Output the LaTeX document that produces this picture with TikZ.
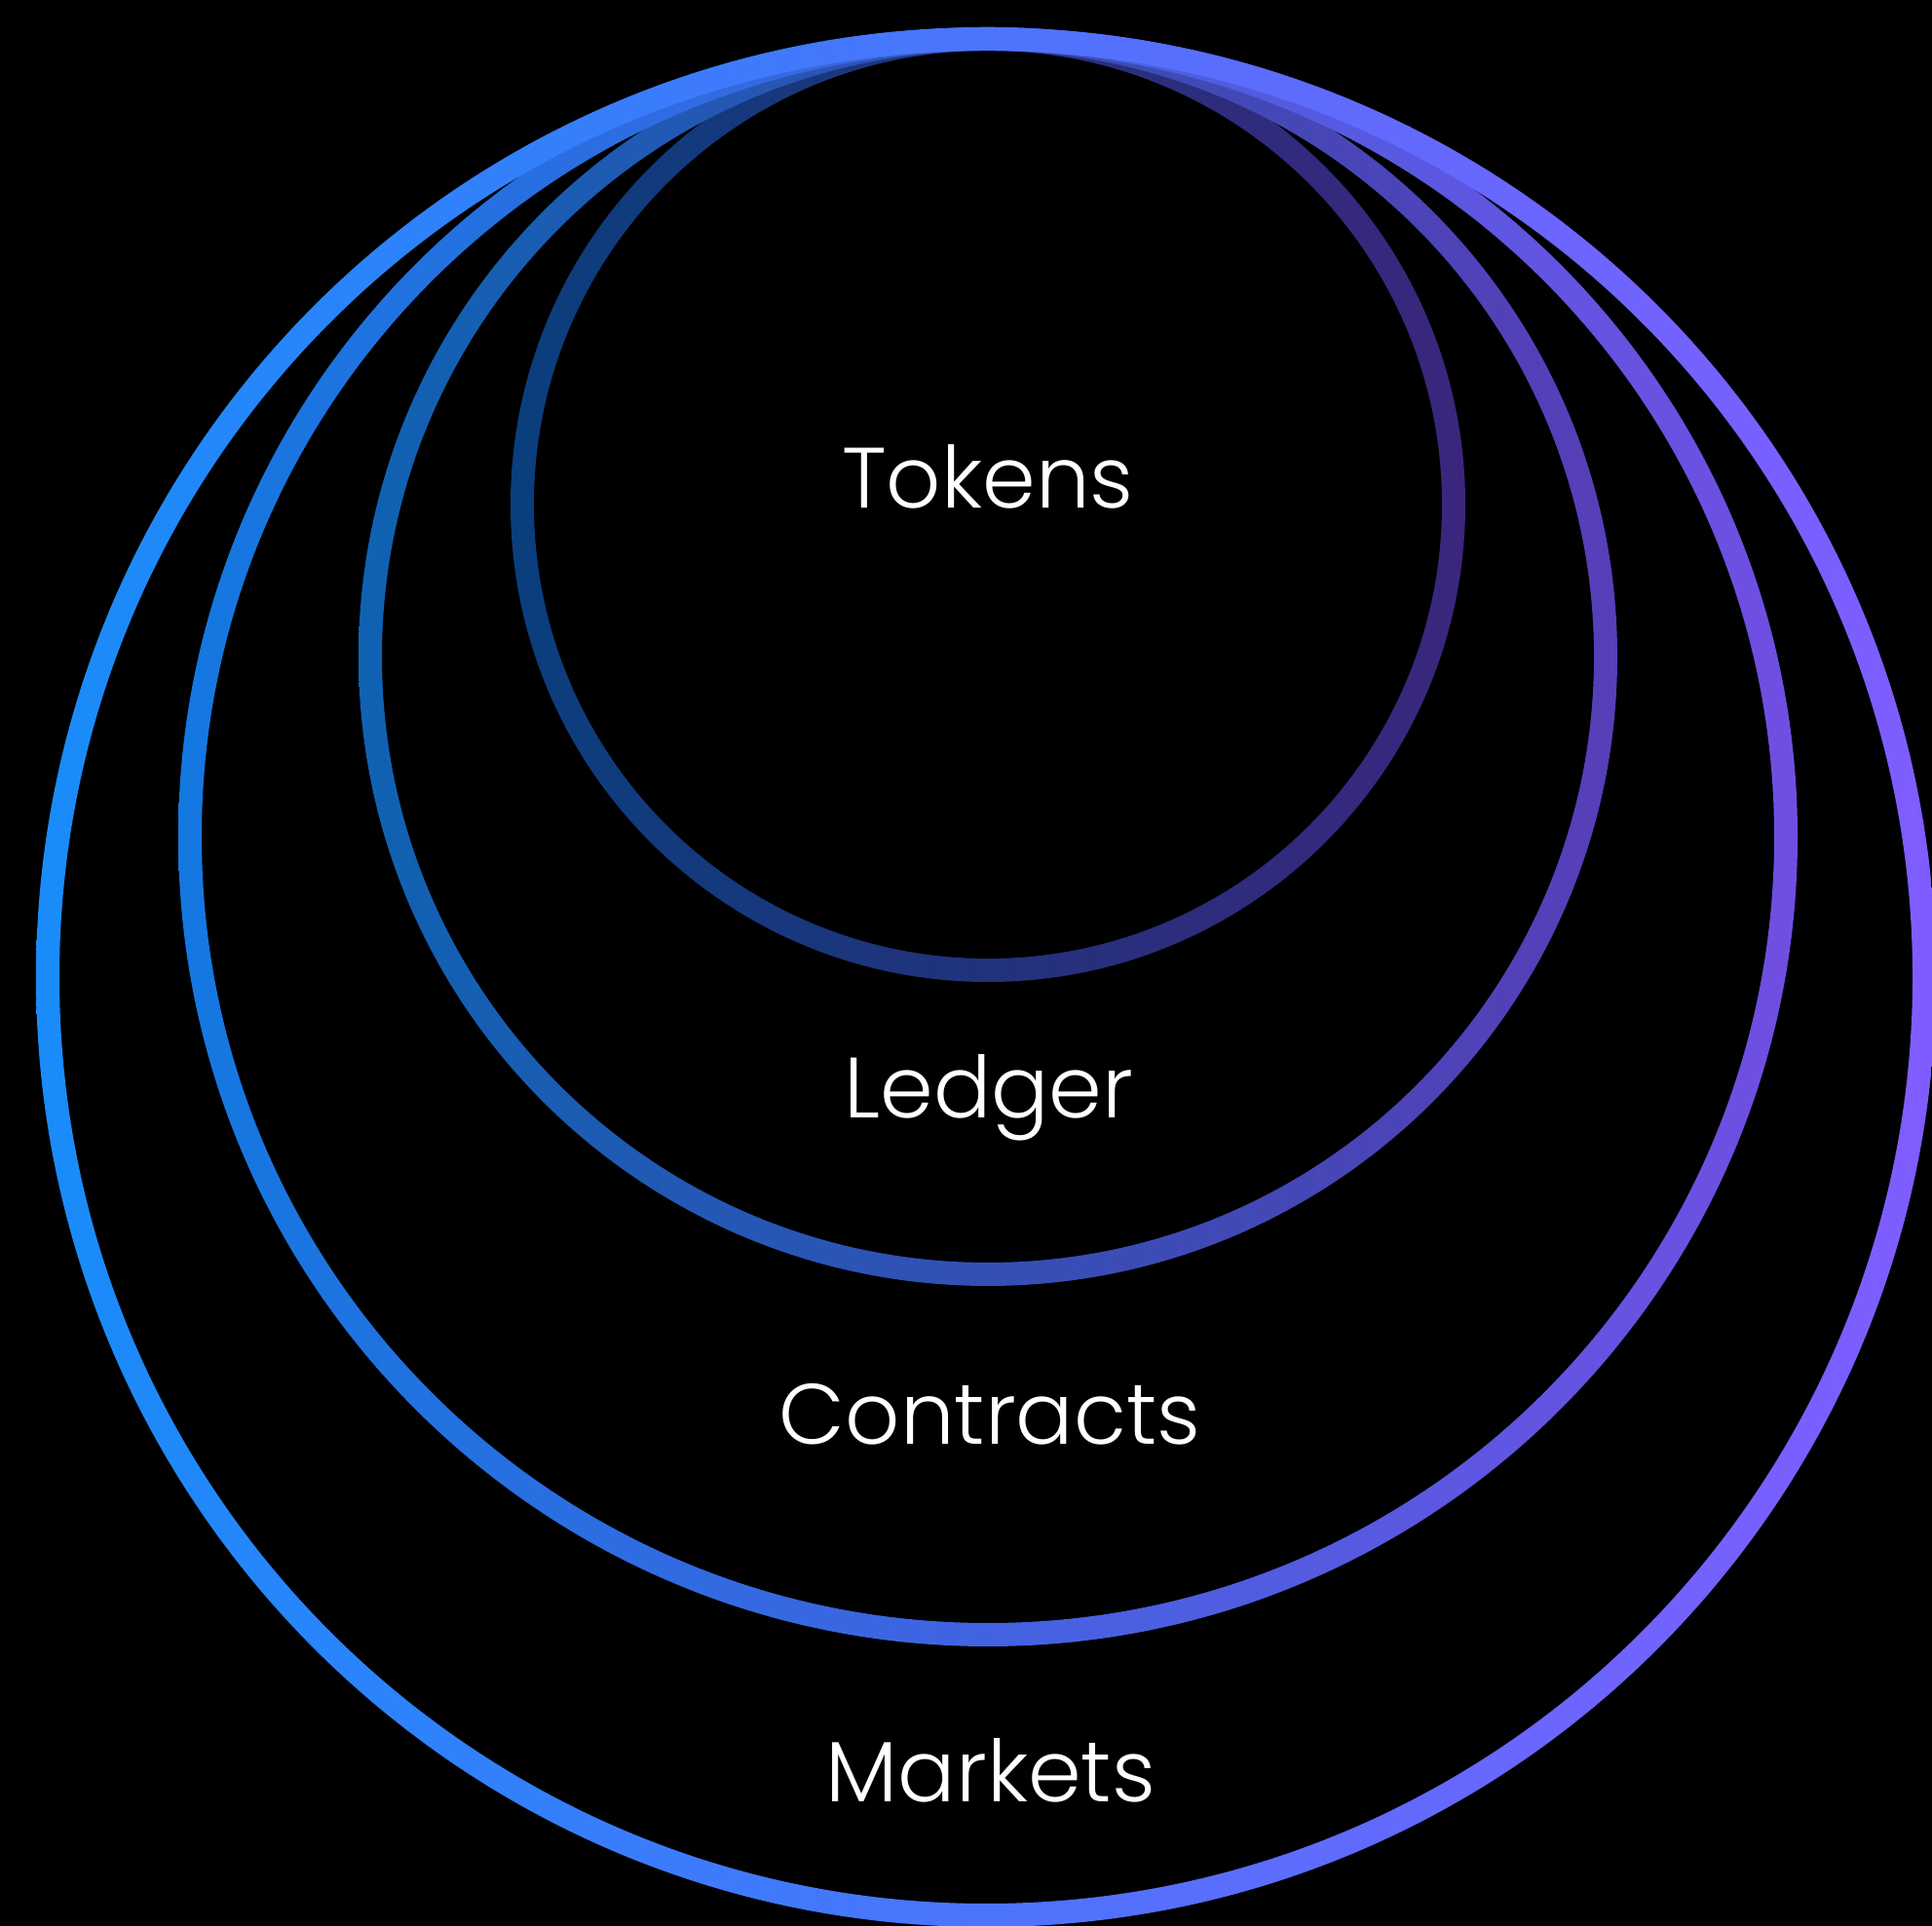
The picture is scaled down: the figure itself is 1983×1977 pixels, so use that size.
\documentclass[tikz,border=0pt]{standalone}
\usepackage{fontspec}
\setmainfont{Poppins}[UprightFont=* Light]
\definecolor{mkL}{RGB}{25,140,250}
\definecolor{mkR}{RGB}{128,92,255}
\definecolor{ctL}{RGB}{20,120,225}
\definecolor{ctR}{RGB}{112,78,225}
\definecolor{ldL}{RGB}{15,98,178}
\definecolor{ldR}{RGB}{88,62,185}
\definecolor{tkL}{RGB}{10,62,125}
\definecolor{tkR}{RGB}{58,38,125}
\begin{document}
\begin{tikzpicture}[
        x=0.01cm, y=0.01cm,
        ring/.style n args={2}{even odd rule, left color=#1, right color=#2},
        layer/.style={text=white, anchor=base, font=\fontsize{25}{30}\selectfont}
    ]
        \useasboundingbox (0,0) rectangle (1983,1977);
        \fill[black] (0,0) rectangle (1983,1977);
        % centres of the four circles, all touching near the top
        \coordinate (tk) at (1014,1459);
        \coordinate (ld) at (1014,1303);
        \coordinate (ct) at (1014,1118);
        \coordinate (mk) at (1012,974);
        \shade[ring={tkL}{tkR}] (tk) circle (490) (tk) circle (466);
        \shade[ring={ldL}{ldR}] (ld) circle (646) (ld) circle (622);
        \shade[ring={ctL}{ctR}] (ct) circle (831) (ct) circle (807);
        \shade[ring={mkL}{mkR}] (mk) circle (975) (mk) circle (951);
        \node[layer] (tokens) at (1014,1455) {Tokens};
        \node[layer] (ledger) at (1015,829) {Ledger};
        \node[layer] (contracts) at (1016,494) {Contracts};
        \node[layer] (markets) at (1017,127) {Markets};
    \end{tikzpicture}
\end{document}
